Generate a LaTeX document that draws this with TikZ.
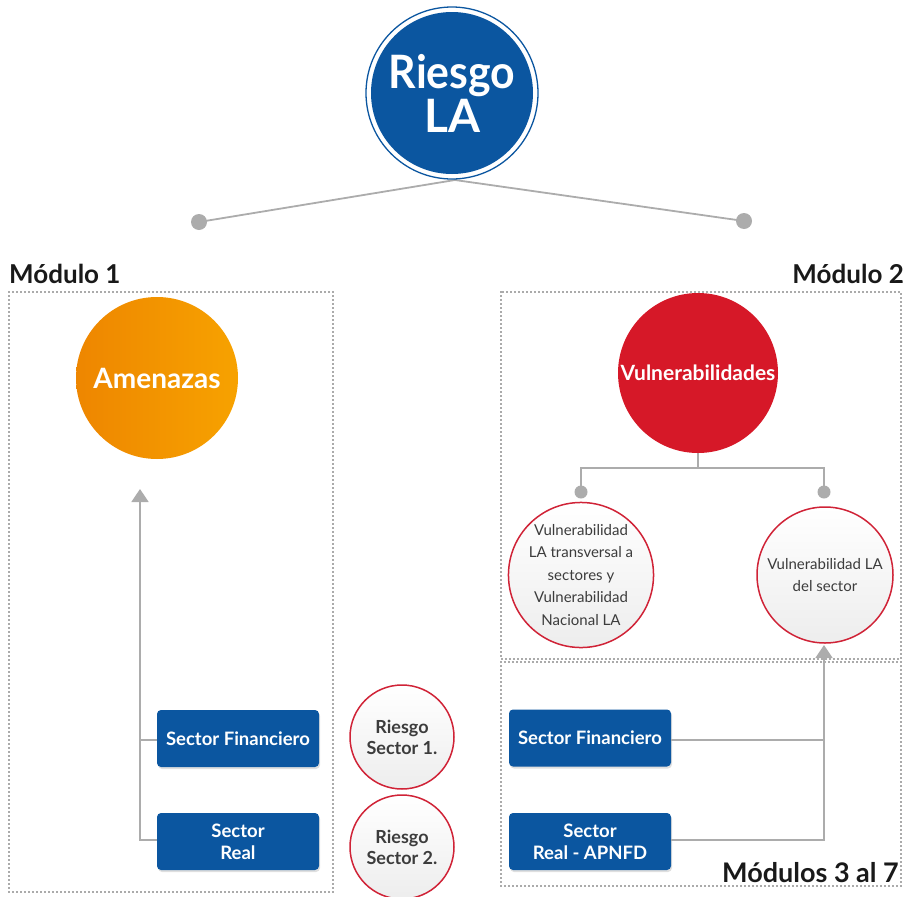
\documentclass[tikz,border=0pt]{standalone}
\usepackage{fontspec}
\setmainfont{Lato}
\usetikzlibrary{arrows.meta,shadows,backgrounds}
\definecolor{mblue}{RGB}{11,86,160}
\definecolor{morangeL}{RGB}{238,134,0}
\definecolor{morangeR}{RGB}{247,162,0}
\definecolor{mred}{RGB}{214,24,40}
\definecolor{mline}{RGB}{172,172,172}
\definecolor{mdot}{RGB}{85,85,85}
\definecolor{mtext}{RGB}{60,60,60}
\definecolor{mring}{RGB}{208,35,55}
\tikzset{
  dotbox/.style={draw=mdot, line width=1.6pt, line cap=round, dash pattern=on 0pt off 4pt},
  conn/.style={draw=mline, line width=1.8pt},
  gdot/.style={circle, fill=mline, inner sep=0pt, minimum size=#1},
  bigc/.style={circle, inner sep=0pt, minimum size=#1, text=white, align=center},
  smallc/.style={circle, draw=mring, line width=1.5pt, inner sep=0pt, minimum size=#1,
    top color=white, bottom color=black!7, text=mtext, align=center},
  sectbox/.style={rounded corners=4pt, fill=mblue, minimum width=162pt, minimum height=57pt,
    text=white, align=center, inner sep=0pt,
    font=\fontsize{18.5}{22}\selectfont\bfseries,
    drop shadow={opacity=0.25, shadow xshift=1pt, shadow yshift=-2pt}},
  modlabel/.style={inner sep=0pt, text=black!90, font=\fontsize{26}{30}\selectfont\bfseries}
}
\begin{document}
\begin{tikzpicture}[x=1pt,y=-1pt]
\useasboundingbox (0,0) rectangle (908,897);

% dotted module boxes
\draw[dotbox] (9,292) rectangle (333,892);
\draw[dotbox] (501,292) rectangle (901,659);
\draw[dotbox] (501,662) rectangle (901,886);

% top circle
\node[bigc=162pt, fill=mblue, font=\fontsize{46}{44}\selectfont\bfseries] (riesgo) at (452,93) {\scalebox{0.93}[1]{Riesgo}\\LA};
\draw[mblue, line width=1.3pt] (riesgo.center) circle[radius=86];

\node[gdot=16pt] (d1) at (199,222) {};
\node[gdot=16pt] (d2) at (744,221) {};
\coordinate (apex) at (455,180);
\begin{scope}[on background layer]
  \draw[conn] (apex) -- (d1.center);
  \draw[conn] (apex) -- (d2.center);
\end{scope}

% module labels
\node[modlabel, anchor=base west] (m1) at (9,283) {Módulo 1};
\node[modlabel, anchor=base east] (m2) at (904,283) {Módulo 2};
\node[modlabel, anchor=base east] (m3) at (899,882) {\fontsize{27}{30}\selectfont Módulos 3 al 7};

% module 1
\node[bigc=162pt, left color=morangeL, right color=morangeR, font=\fontsize{28}{30}\selectfont\bfseries] (amen) at (157,378) {Amenazas};
\node[sectbox] (sf1) at (238,738.5) {Sector Financiero};
\node[sectbox] (sr1) at (238,841.5) {Sector\\Real};
\coordinate (la) at (140,489);
\coordinate (lb1) at (140,740);
\coordinate (lb2) at (140,840);
\draw[conn] (sf1.west |- lb1) -- (lb1);
\draw[conn, -{Triangle[width=17pt,length=13pt]}] (sr1.west |- lb2) -- (lb2) -- (la);

% riesgo sector circles
\node[smallc=104pt, font=\fontsize{18}{21}\selectfont\bfseries] (rs1) at (402,737) {Riesgo\\Sector 1.};
\node[smallc=104pt, font=\fontsize{18}{21}\selectfont\bfseries] (rs2) at (402,847) {Riesgo\\Sector 2.};

% module 2
\node[bigc=160pt, fill=mred, font=\fontsize{21}{24}\selectfont\bfseries] (vuln) at (698,373) {Vulnerabilidades};
\node[smallc=136pt, font=\fontsize{15}{22.5}\selectfont] (v1) at (581,575) {Vulnerabilidad\\LA transversal a\\sectores y\\Vulnerabilidad\\Nacional LA};
\node[smallc=136pt, font=\fontsize{15}{22.5}\selectfont] (v2) at (825,575) {Vulnerabilidad LA\\del sector};
\node[gdot=13pt] (vd1) at (581,492) {};
\node[gdot=13pt] (vd2) at (824,492) {};
\coordinate (vj) at (698,468);
\begin{scope}[on background layer]
  \draw[conn] (vuln.south) -- (vj);
  \draw[conn] (vj) -| (vd1.center);
  \draw[conn] (vj) -| (vd2.center);
\end{scope}

% modules 3-7
\node[sectbox] (sf2) at (590,738) {Sector Financiero};
\node[sectbox] (sr2) at (590,841.5) {Sector\\Real - APNFD};
\coordinate (rj1) at (824,740);
\coordinate (rj2) at (824,840);
\coordinate (rtop) at (824,645);
\draw[conn] (sf2.east |- rj1) -- (rj1);
\draw[conn, -{Triangle[width=17pt,length=13pt]}] (sr2.east |- rj2) -- (rj2) -- (rtop);
\end{tikzpicture}
\end{document}
